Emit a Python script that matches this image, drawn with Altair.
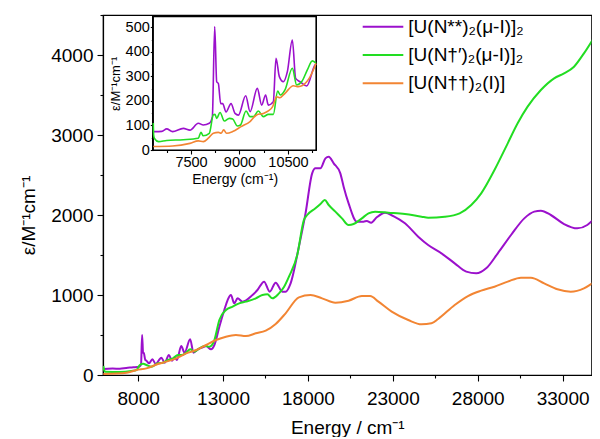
import altair as alt
import pandas as pd

FONT = "Liberation Sans"

series = ["[U(N**)₂(μ-I)]₂", "[U(N†′)₂(μ-I)]₂", "[U(N††)₂(I)]"]
colors = ["#9B10CC", "#22DD22", "#F28533"]

# ---------------- main spectrum ----------------
purple_E = [5950, 6500, 6926, 7300, 7706, 8058, 8170, 8233, 8290, 8340, 8420, 8487, 8643, 8838, 9034,
            9366, 9561, 9815, 9990, 10146, 10283, 10537, 10732, 11064, 11259, 11513, 11806, 12001, 12294,
            12489, 12782, 13074, 13270, 13465, 13660, 13855, 14148, 14734, 15026, 15417, 15749, 16100,
            16490, 16686, 16979, 17467, 17858, 18248, 18443, 18736, 19029, 19224, 19517, 19907, 20102,
            20395, 20883, 21274, 21469, 21722, 22054, 22542, 23030, 23714, 24495, 25080, 25862, 26643,
            27326, 27911, 28497, 29180, 29961, 30742, 31328, 31718, 32304, 33084, 33865, 34451, 34939]
purple_V = [75, 80, 79, 88, 96, 104, 130, 500, 280, 271, 189, 179, 146, 196, 138,
            217, 154, 250, 179, 221, 188, 362, 279, 446, 279, 321, 346, 362, 321,
            375, 604, 812, 937, 1000, 896, 958, 917, 1000, 1062, 1167, 1042, 1154,
            1042, 1042, 1146, 1604, 2021, 2521, 2583, 2583, 2708, 2729, 2646, 2521, 2354,
            2146, 1917, 1917, 1925, 1904, 1971, 2029, 1987, 1896, 1729, 1625, 1521, 1396,
            1292, 1271, 1333, 1521, 1750, 1958, 2042, 2054, 2000, 1887, 1833, 1875, 1971]

green_E = [5950, 6000, 6047, 6926, 7600, 7902, 8097, 8300, 8487, 8780, 9170, 9463, 9756, 10049, 10342,
           10595, 10830, 11064, 11318, 11611, 11904, 12197, 12489, 12782, 13172, 13563, 13953, 14344,
           14929, 15320, 15612, 15905, 16295, 16588, 16882, 17370, 17760, 17955, 18443, 18736, 18990,
           19224, 19614, 20005, 20395, 20688, 21176, 21566, 21957, 22738, 23714, 24690, 25081, 26057,
           26935, 27619, 28204, 28985, 29766, 30351, 30937, 31718, 32499, 33084, 33670, 34255, 34939]
green_V = [112, 60, 42, 38, 50, 62, 125, 140, 125, 104, 146, 154, 188, 208, 250,
           250, 279, 321, 292, 333, 362, 354, 437, 688, 812, 854, 896, 917,
           958, 1000, 1008, 958, 1021, 1100, 1230, 1500, 1937, 2000, 2083, 2137, 2187,
           2125, 2042, 1958, 1875, 1887, 1958, 2021, 2042, 2029, 2012, 1979, 1967, 1979,
           2021, 2125, 2271, 2562, 2896, 3146, 3354, 3562, 3708, 3771, 3854, 4021, 4250]

orange_E = [5950, 7316, 7902, 8487, 9170, 9658, 10244, 10830, 11415, 12001, 12587, 13172, 13758, 14344,
            14929, 15515, 16100, 16685, 17467, 18150, 18834, 19614, 20395, 21176, 21664, 22152, 22933,
            23909, 24690, 25276, 25667, 26643, 27424, 28204, 28985, 29766, 30546, 31132, 31913, 32694,
            33475, 34255, 34939]
orange_V = [12, 29, 62, 83, 138, 167, 208, 271, 312, 375, 437, 479, 500, 487,
            521, 554, 637, 771, 971, 1000, 958, 904, 929, 987, 987, 917, 792,
            687, 633, 646, 700, 875, 987, 1054, 1104, 1167, 1217, 1217, 1146, 1071,
            1042, 1083, 1175]

# ---------------- inset (NIR region) ----------------
ipurple_E = [6334, 6600, 6748, 6930, 7262, 7468, 7726, 7880, 8066, 8160, 8233, 8295, 8346, 8418, 8480,
             8583, 8738, 8862, 8965, 9192, 9326, 9551, 9685, 9808, 9891, 10046, 10129, 10232, 10356,
             10480, 10634, 10737, 10871, 11078, 11335, 11366]
ipurple_V = [75, 76, 86, 75, 88, 81, 109, 102, 109, 135, 503, 278, 271, 189, 189,
             155, 189, 149, 142, 221, 156, 251, 183, 224, 183, 197, 374, 299, 278,
             319, 448, 292, 278, 261, 346, 350]

igreen_E = [6334, 6345, 6370, 6500, 6748, 7262, 7726, 7807, 7880, 8066, 8191, 8243, 8295, 8398, 8532,
            8686, 8790, 8934, 9030, 9202, 9326, 9430, 9582, 9737, 9891, 10046, 10180, 10260, 10407,
            10634, 10768, 10923, 11098, 11253, 11366]
igreen_V = [110, 60, 47, 34, 39, 42, 48, 72, 58, 68, 143, 145, 129, 153, 118,
            129, 126, 98, 102, 159, 136, 136, 159, 136, 145, 145, 240, 224, 245,
            333, 265, 278, 326, 363, 353]

iorange_E = [6334, 6930, 7468, 7726, 7880, 8035, 8191, 8346, 8430, 8511, 8600, 8789, 9047, 9326, 9531,
             9737, 9891, 10025, 10149, 10250, 10407, 10665, 10820, 11078, 11284, 11366]
iorange_V = [14, 16, 27, 37, 34, 48, 68, 72, 68, 82, 68, 75, 95, 116, 143,
             149, 159, 177, 217, 213, 231, 262, 258, 278, 326, 353]

main_x_ticks = [8000, 10500, 13000, 15500, 18000, 20500, 23000, 25500, 28000, 30500, 33000]
main_y_ticks = [0, 500, 1000, 1500, 2000, 2500, 3000, 3500, 4000, 4500]
inset_x_ticks = [6750, 7500, 8250, 9000, 9750, 10500, 11250]
inset_y_ticks = [0, 50, 100, 150, 200, 250, 300, 350, 400, 450, 500]


def long_table(Es, Vs):
    rows = []
    for name, e, v in zip(series, Es, Vs):
        assert len(e) == len(v), name
        for a, b in zip(e, v):
            rows.append({"E": a, "V": b, "series": name})
    return pd.DataFrame(rows)


main_df = long_table([purple_E, green_E, orange_E], [purple_V, green_V, orange_V])
inset_df = long_table([ipurple_E, igreen_E, iorange_E], [ipurple_V, igreen_V, iorange_V])
legend_df = pd.DataFrame({"series": series})

W, H = 488.5, 360

color_enc = alt.Color("series:N", sort=series, scale=alt.Scale(domain=series, range=colors), legend=None)

main = alt.Chart(main_df).mark_line(strokeWidth=2, interpolate="monotone", clip=True).encode(
    x=alt.X("E:Q",
            scale=alt.Scale(domain=[5930, 34700], nice=False, zero=False),
            axis=alt.Axis(title="Energy / cm⁻¹", values=main_x_ticks, format="d",
                          labelExpr="(datum.value - 8000) % 5000 === 0 ? datum.label : ''",
                          tickSize={"condition": {"test": "(datum.value - 8000) % 5000 === 0", "value": 6}, "value": 3},
                          labelPadding=8, titlePadding=10, labelFontSize=19, titleFontSize=19)),
    y=alt.Y("V:Q",
            scale=alt.Scale(domain=[0, 4500], nice=False),
            axis=alt.Axis(title="ε/M⁻¹cm⁻¹", values=main_y_ticks, format="d",
                          labelExpr="datum.value % 1000 === 0 ? datum.label : ''",
                          tickSize={"condition": {"test": "datum.value % 1000 === 0", "value": 6}, "value": 3},
                          labelPadding=4, titlePadding=12, titleY=200,
                          labelFontSize=19, titleFontSize=19)),
    color=color_enc,
)

ix_scale = alt.Scale(domain=[6334, 11366], range=[50.3, 213], nice=False, zero=False)
iy_scale = alt.Scale(domain=[0, 543], range=[135, 1.7], nice=False, zero=False)
ix_axis = alt.Axis(title="Energy (cm⁻¹)", orient="bottom", offset=-225, values=inset_x_ticks, format="d",
                   labelExpr="datum.value % 1500 === 0 ? datum.label : ''",
                   tickSize={"condition": {"test": "datum.value % 1500 === 0", "value": 4}, "value": 2.5},
                   labelPadding=1, titlePadding=4, labelFontSize=14.5, titleFontSize=14)
iy_axis = alt.Axis(title="ε/M⁻¹cm⁻¹", orient="left", offset=-50.3, values=inset_y_ticks, format="d",
                   labelExpr="datum.value % 100 === 0 ? datum.label : ''",
                   tickSize={"condition": {"test": "datum.value % 100 === 0", "value": 3}, "value": 2},
                   labelPadding=1, titlePadding=3, labelFontSize=14.5, titleFontSize=13)

inset_box = alt.Chart(inset_df).mark_rect(fill="white", stroke="black", strokeWidth=1.2).encode(
    x=alt.X(datum=6334, scale=ix_scale, axis=ix_axis),
    x2=alt.X2(datum=11366),
    y=alt.Y(datum=0, scale=iy_scale, axis=iy_axis),
    y2=alt.Y2(datum=543),
)

inset_lines = alt.Chart(inset_df).mark_line(strokeWidth=1.6, interpolate="monotone").encode(
    x=alt.X("E:Q", scale=ix_scale, axis=ix_axis),
    y=alt.Y("V:Q", scale=iy_scale, axis=iy_axis),
    color=color_enc,
)

inset = alt.layer(inset_box, inset_lines)

# legend (drawn as marks so that row spacing matches)
leg_y = alt.Y("series:N", sort=series,
              scale=alt.Scale(type="point", domain=series, range=[11.7, 68.3], padding=0), axis=None)
legend_lines = alt.Chart(legend_df).mark_rule(strokeWidth=2).encode(
    x=alt.value(259.7), x2=alt.value(300.3), y=leg_y, color=color_enc,
)
legend_text = alt.Chart(legend_df).mark_text(
    align="left", baseline="middle", fontSize=19, font=FONT, color="black"
).encode(
    x=alt.value(305.3), y=leg_y, text="series:N",
)
legend = alt.layer(legend_lines, legend_text)

chart = alt.layer(main, inset, legend).resolve_scale(
    x="independent", y="independent", color="independent"
).properties(
    width=W, height=H,
    autosize=alt.AutoSizeParams(type="none"),
    padding={"left": 95, "top": 7, "right": 0.5, "bottom": 62},
).configure_view(
    stroke="black", strokeWidth=1.2
).configure_axis(
    labelFont=FONT, titleFont=FONT, labelColor="black", titleColor="black",
    titleFontWeight="normal", domainColor="black", domainWidth=1.2,
    tickColor="black", tickWidth=1.1, grid=False,
)

chart.save("out.html", embed_options={"renderer": "svg", "actions": False})
